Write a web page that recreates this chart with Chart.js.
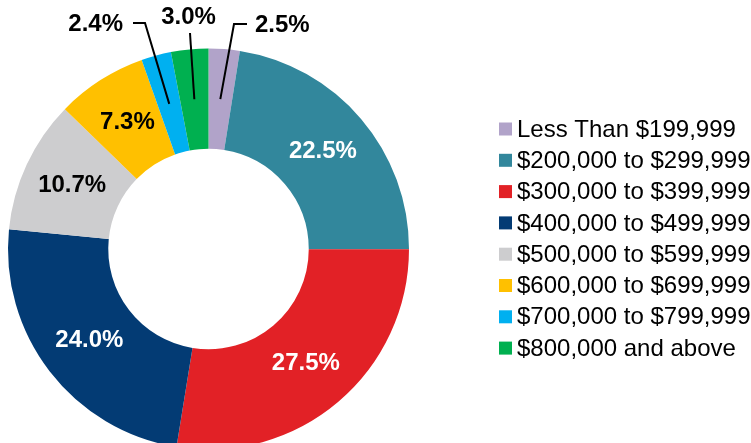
<!DOCTYPE html>
<html>
<head>
<meta charset="utf-8">
<script src="https://cdn.jsdelivr.net/npm/chart.js@4.4.1/dist/chart.umd.min.js"></script>
<style>
  html, body { margin: 0; padding: 0; background: #fff; }
  #wrap { width: 751px; height: 443px; overflow: hidden; }
</style>
</head>
<body>
<div id="wrap"><canvas id="priceChart" width="751" height="460"></canvas></div>
<script>
var categories = ['Less Than $199,999', '$200,000 to $299,999', '$300,000 to $399,999', '$400,000 to $499,999',
                  '$500,000 to $599,999', '$600,000 to $699,999', '$700,000 to $799,999', '$800,000 and above'];
var shares = [2.5, 22.5, 27.5, 24.0, 10.7, 7.3, 2.4, 3.0];
var sliceColors = ['#B1A3C9', '#32879C', '#E22126', '#033B74', '#CDCDCF', '#FFC000', '#00B0F0', '#00B050'];
var labelColors = ['#000', '#fff', '#fff', '#fff', '#000', '#000', '#000', '#000'];

var FONT = '"Liberation Sans", Arial, sans-serif';

// small slices get their label outside with a leader line (offsets from centre)
var outside = {
    0: { elbow: [25.5, -225], end: [38.5, -225], text: [46.5, -224], align: 'left' },
    6: { elbow: [-63.5, -226], end: [-75.5, -226], text: [-85.5, -225], align: 'right' },
    7: { elbow: [-18.5, -216], end: [-18.5, -216], text: [-20, -232], align: 'center' }
};

var sliceLabels = {
    id: 'sliceLabels',
    afterDatasetsDraw: function(chart) {
        var ctx = chart.ctx;
        var meta = chart.getDatasetMeta(0);
        ctx.save();
        ctx.font = 'bold 24px ' + FONT;
        ctx.textBaseline = 'middle';
        meta.data.forEach(function(arc, i) {
            var p = arc.getProps(['x', 'y', 'startAngle', 'endAngle', 'innerRadius', 'outerRadius'], true);
            var mid = (p.startAngle + p.endAngle) / 2;
            var r = (p.innerRadius + p.outerRadius) / 2;
            var px = p.x + Math.cos(mid) * r;
            var py = p.y + Math.sin(mid) * r;
            var txt = shares[i].toFixed(1) + '%';
            var o = outside[i];
            if (o) {
                ctx.strokeStyle = '#000';
                ctx.lineWidth = 2;
                ctx.beginPath();
                ctx.moveTo(px, py);
                ctx.lineTo(p.x + o.elbow[0], p.y + o.elbow[1]);
                ctx.lineTo(p.x + o.end[0], p.y + o.end[1]);
                ctx.stroke();
                ctx.fillStyle = '#000';
                ctx.textAlign = o.align;
                ctx.fillText(txt, p.x + o.text[0], p.y + o.text[1]);
            } else {
                ctx.fillStyle = labelColors[i];
                ctx.textAlign = 'center';
                ctx.fillText(txt, px, py);
            }
        });
        ctx.restore();
    }
};

var sideLegend = {
    id: 'sideLegend',
    afterDraw: function(chart) {
        var ctx = chart.ctx;
        var colors = chart.data.datasets[0].backgroundColor;
        ctx.save();
        ctx.font = '24px ' + FONT;
        ctx.textBaseline = 'middle';
        ctx.textAlign = 'left';
        chart.data.labels.forEach(function(lbl, i) {
            var y = 129 + i * 31.3;
            ctx.fillStyle = colors[i];
            ctx.fillRect(499, y - 6.5, 13, 13);
            ctx.fillStyle = '#000';
            ctx.fillText(lbl, 517, y + 1);
        });
        ctx.restore();
    }
};

var ctxDonut = document.getElementById('priceChart').getContext('2d');
var donutChart = new Chart(ctxDonut, {
    type: 'doughnut',
    data: {
        labels: categories,
        datasets: [{
            data: shares,
            backgroundColor: sliceColors,
            borderWidth: 0
        }]
    },
    options: {
        responsive: false,
        animation: false,
        cutout: '50%',
        layout: {
            padding: { left: 8, top: 48.5, right: 342, bottom: 10.5 }
        },
        plugins: {
            legend: { display: false },
            tooltip: { enabled: false }
        }
    },
    plugins: [sliceLabels, sideLegend]
});
</script>
</body>
</html>
